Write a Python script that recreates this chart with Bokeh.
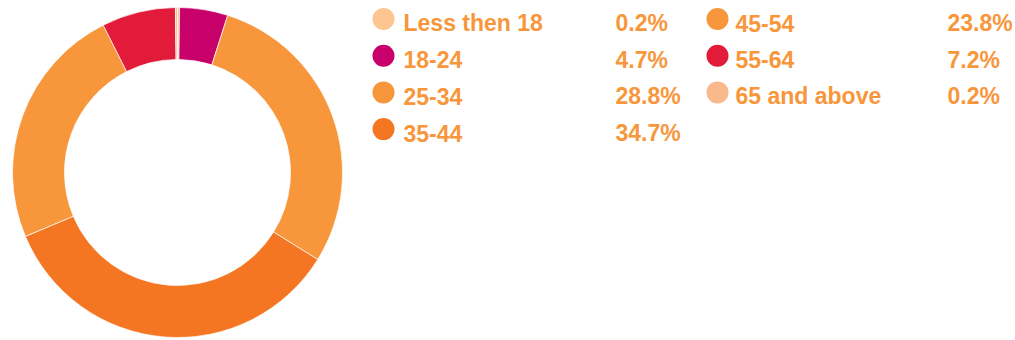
import math
from bokeh.plotting import figure
from bokeh.models import Range1d, ColumnDataSource
from bokeh.core.properties import value
from bokeh.embed import file_html
from bokeh.resources import INLINE

categories = ["Less then 18", "18-24", "25-34", "35-44", "45-54", "55-64", "65 and above"]
shares = [0.2, 4.7, 28.8, 34.7, 23.8, 7.2, 0.2]
pct_labels = ["0.2%", "4.7%", "28.8%", "34.7%", "23.8%", "7.2%", "0.2%"]
colors = ["#fdc592", "#c8006a", "#f7963a", "#f47622", "#f7963a", "#e31b3a", "#f9b98a"]

W, H = 1015, 340
p = figure(width=W, height=H, x_range=Range1d(0, W), y_range=Range1d(0, H),
           output_backend="svg", toolbar_location=None, min_border=0,
           outline_line_color=None, background_fill_color="white", border_fill_color="white")
p.axis.visible = False
p.grid.visible = False

total = sum(shares)
starts, ends = [], []
cum = 0.0
for s in shares:
    starts.append(math.pi / 2 - 2 * math.pi * cum / total)
    cum += s
    ends.append(math.pi / 2 - 2 * math.pi * cum / total)

cx, cy = 177, H - 172
src = ColumnDataSource(dict(start=starts, end=ends, color=colors))
p.annular_wedge(x=cx, y=cy, inner_radius=113, outer_radius=165, start_angle="start",
                end_angle="end", direction="clock", fill_color="color",
                line_color="white", line_width=0.7, source=src)

# legend
mx, my, tx, ty, px = [], [], [], [], []
for i in range(len(categories)):
    col, row = divmod(i, 4)
    mx.append(383 + col * 334)
    my.append(H - (18.5 + row * 36.7))
    tx.append(403 + col * 332)
    ty.append(H - (22.5 + row * 36.7))
    px.append(615 + col * 332)

lsrc = ColumnDataSource(dict(mx=mx, my=my, tx=tx, ty=ty, px=px, cat=categories,
                             pct=pct_labels, color=colors))
p.scatter(x="mx", y="my", size=22, fill_color="color", line_color=None, source=lsrc)
p.text(x="tx", y="ty", text="cat", text_font=value("Liberation Sans"), text_font_style="bold",
       text_font_size="23px", text_color="#f7963a", text_baseline="alphabetic", source=lsrc)
p.text(x="px", y="ty", text="pct", text_font=value("Liberation Sans"), text_font_style="bold",
       text_font_size="23px", text_color="#f7963a", text_baseline="alphabetic", source=lsrc)

open("out.html", "w").write(file_html(p, INLINE))
